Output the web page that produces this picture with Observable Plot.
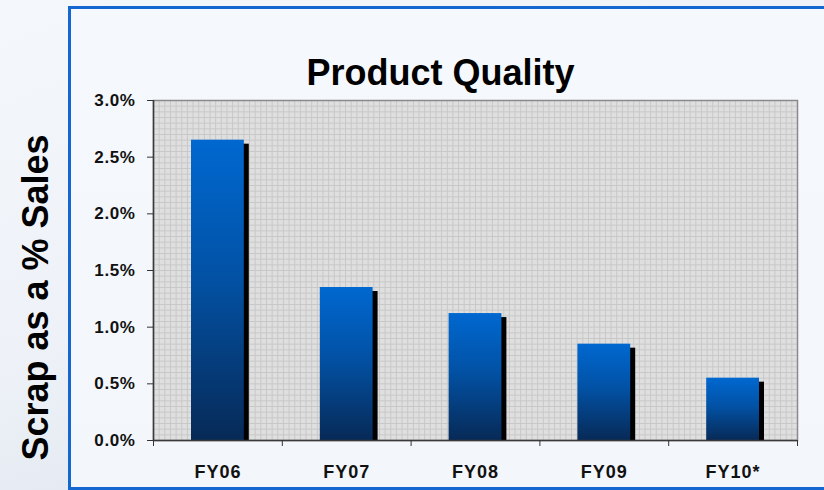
<!DOCTYPE html>
<html>
<head>
<meta charset="utf-8">
<script src="https://cdn.jsdelivr.net/npm/d3@7"></script>
<script src="https://cdn.jsdelivr.net/npm/@observablehq/plot@0.6"></script>
<style>
  html, body { margin: 0; padding: 0; width: 824px; height: 490px; overflow: hidden; }
  body {
    position: relative;
    background: linear-gradient(160deg, #f4f7fb 0%, #eef2f8 45%, #e3e9f1 70%, #eef2f7 100%);
    font-family: "Liberation Sans", Arial, sans-serif;
  }
  #box {
    position: absolute; left: 68px; top: 6px; width: 780px; height: 484px;
    box-sizing: border-box; border: 3px solid #1466d0;
    background: linear-gradient(180deg, #f5f8fc 0%, #f3f6fb 100%);
  }
  #chart { position: absolute; left: 0; top: 0; }
  g[aria-label="y-axis tick label"] text { letter-spacing: 0.6px; }
  g[aria-label="x-axis tick label"] text { letter-spacing: 1px; }
</style>
</head>
<body>
<div id="box"></div>
<div id="chart"></div>
<script>
const categories = ["FY06", "FY07", "FY08", "FY09", "FY10*"];
const values = [2.65, 1.35, 1.12, 0.85, 0.55];
const yTicks = [0, 0.5, 1.0, 1.5, 2.0, 2.5, 3.0];
const title = "Product Quality";
const yLabel = "Scrap as a % Sales";

const data = categories.map((c, i) => ({i, c, v: values[i]}));
const gridY = d3.range(0, 3.0001, 0.05);
const gridX = d3.range(0, 5.0001, 5 / 114);
const bandTicks = d3.range(0, categories.length + 1);
const labelTicks = categories.map((c, i) => i + 0.5);

const defs = () => {
  const d = d3.create("svg:defs");
  const g = d.append("linearGradient").attr("id", "barGrad")
    .attr("x1", 0).attr("y1", 0).attr("x2", 0).attr("y2", 1);
  g.append("stop").attr("offset", "0%").attr("stop-color", "#0068d0");
  g.append("stop").attr("offset", "45%").attr("stop-color", "#0252a6");
  g.append("stop").attr("offset", "100%").attr("stop-color", "#072a57");
  return d.node();
};

const chart = Plot.plot({
  width: 824,
  height: 490,
  marginLeft: 153,
  marginRight: 27,
  marginTop: 100,
  marginBottom: 50,
  style: {background: "transparent", fontFamily: "'Liberation Sans', Arial, sans-serif", overflow: "visible"},
  x: {domain: [0, categories.length], axis: null},
  y: {domain: [0, 3], axis: null},
  marks: [
    defs,
    Plot.frame({fill: "#dfdfdf"}),
    Plot.ruleY(gridY, {stroke: "#c8c8c8", strokeWidth: 1}),
    Plot.ruleX(gridX, {stroke: "#c8c8c8", strokeWidth: 1}),
    Plot.frame({stroke: "#8a8a8a", strokeWidth: 1.5}),
    Plot.rectY(data, {x1: d => d.i, x2: d => d.i + 1, y1: 0, y2: "v", fill: "#000", insetLeft: 38, insetRight: 38, insetTop: 4, dx: 5}),
    Plot.rectY(data, {x1: d => d.i, x2: d => d.i + 1, y1: 0, y2: "v", fill: "url(#barGrad)", insetLeft: 38, insetRight: 38}),
    Plot.ruleY([0], {stroke: "#3a3a3a", strokeWidth: 1.5}),
    Plot.ruleX([0], {stroke: "#3a3a3a", strokeWidth: 1.5}),
    Plot.axisY({ticks: yTicks, tickFormat: d => d.toFixed(1) + "%", tickSize: 6, tickPadding: 12, label: null,
      fontSize: 17, fontWeight: "bold", fill: "#111", stroke: "#333"}),
    Plot.axisX({ticks: bandTicks, tickFormat: () => "", tickSize: 6, stroke: "#333", label: null}),
    Plot.axisX({ticks: labelTicks, tickFormat: d => categories[Math.floor(d)], tickSize: 0, tickPadding: 25, label: null,
      fontSize: 18, fontWeight: "bold", fill: "#111"}),
    Plot.text([title], {text: d => d, frameAnchor: "top", dx: -35, dy: -27, lineAnchor: "middle",
      fontSize: 36, fontWeight: "bold", fill: "#000"}),
    Plot.text([yLabel], {text: d => d, frameAnchor: "left", rotate: -90, dx: -117, dy: 27, textAnchor: "middle", lineAnchor: "middle",
      fontSize: 36, fontWeight: "bold", fill: "#000"})
  ]
});
document.getElementById("chart").appendChild(chart);
</script>
</body>
</html>
